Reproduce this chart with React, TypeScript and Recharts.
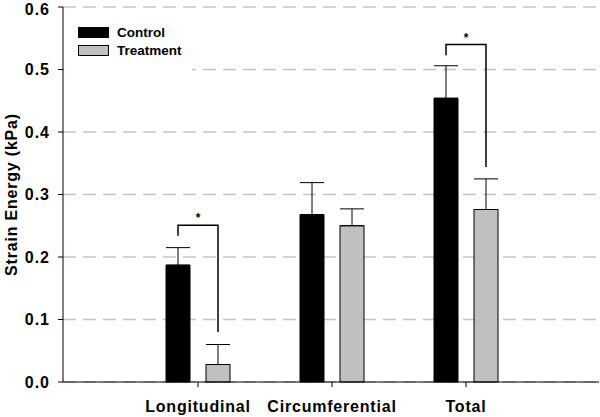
import { Bar, BarChart, CartesianGrid, ErrorBar, Legend, XAxis, YAxis } from "recharts";

const FONT = "'Liberation Sans', Arial, Helvetica, sans-serif";

const categories = ["Longitudinal", "Circumferential", "Total"];
const control = [0.187, 0.268, 0.454];
const controlErr = [0.028, 0.051, 0.052];
const treatment = [0.028, 0.25, 0.276];
const treatmentErr = [0.032, 0.027, 0.049];

// significance brackets: start above control, top line, end above treatment
const sigLeftStart = [0.234, null, 0.523];
const sigTop = [0.251, null, 0.54];
const sigRightEnd = [0.08, null, 0.344];

const yTicks = [0, 0.1, 0.2, 0.3, 0.4, 0.5, 0.6];

const data = categories.map((name, i) => ({
  name,
  control: control[i],
  controlErr: [0, controlErr[i]],
  treatment: treatment[i],
  treatmentErr: [0, treatmentErr[i]],
}));

const BAR_SIZE = 24;
const BAR_GAP = 16;

function TreatmentShape(props: any) {
  const { x, y, width, height, fill, index } = props;
  const base = y + height;
  const perUnit = height / treatment[index];
  const toY = (v: number) => base - v * perUnit;
  const cxT = x + width / 2;
  const cxC = cxT - (width + BAR_GAP);
  const top = sigTop[index];
  return (
    <g>
      <rect x={x} y={y} width={width} height={height} fill={fill} stroke="#000" strokeWidth={1} />
      {top != null && (
        <g>
          <path
            d={`M${cxC},${toY(sigLeftStart[index] as number)} V${toY(top)} H${cxT} V${toY(
              sigRightEnd[index] as number
            )}`}
            fill="none"
            stroke="#000"
            strokeWidth={1.5}
          />
          <text
            x={(cxC + cxT) / 2}
            y={toY(top) - 3}
            textAnchor="middle"
            fontSize={12}
            fontWeight={700}
            fontFamily={FONT}
            fill="#000"
          >
            *
          </text>
        </g>
      )}
    </g>
  );
}

function YTitle(props: any) {
  const vb = props.viewBox;
  const cx = vb.x + 17;
  const cy = vb.y + vb.height / 2;
  return (
    <text
      x={cx}
      y={cy}
      transform={`rotate(-90, ${cx}, ${cy})`}
      textAnchor="middle"
      fontSize={16}
      fontWeight={700}
      fontFamily={FONT}
      letterSpacing={0.8}
      fill="#000"
    >
      Strain Energy (kPa)
    </text>
  );
}

function renderLegend(props: any) {
  const items = props.payload || [];
  return (
    <div style={{ position: "relative", width: 128, height: 56, fontFamily: FONT }}>
      {items.map((e: any, i: number) => (
        <div
          key={String(e.value)}
          style={{
            position: "absolute",
            left: 14,
            top: 11 + i * 18,
            height: 11,
            display: "flex",
            alignItems: "center",
          }}
        >
          <span
            style={{
              width: 31,
              height: 11,
              background: e.color,
              border: "1px solid #000",
              boxSizing: "border-box",
            }}
          />
          <span style={{ marginLeft: 8, fontSize: 13.5, fontWeight: 700, color: "#000", lineHeight: "11px" }}>
            {e.value}
          </span>
        </div>
      ))}
    </div>
  );
}

export default function App() {
  return (
    <div style={{ position: "absolute", left: 0, top: 0, width: 600, height: 417, background: "#fff" }}>
      <BarChart
        width={600}
        height={417}
        data={data}
        barGap={BAR_GAP}
        margin={{ top: 7, right: 1, bottom: 5, left: 0 }}
      >
        <CartesianGrid vertical={false} stroke="#c4c4c4" strokeWidth={1.5} strokeDasharray="13 7" />
        <XAxis
          dataKey="name"
          padding={{ left: 68, right: 66 }}
          height={30}
          tickSize={5}
          tickMargin={14}
          axisLine={{ stroke: "#000" }}
          tickLine={{ stroke: "#000" }}
          tick={{ fill: "#000", fontSize: 16, fontWeight: 700, fontFamily: FONT, letterSpacing: 0.8 }}
        />
        <XAxis
          xAxisId="top"
          dataKey="name"
          orientation="top"
          height={0}
          tick={false}
          tickLine={false}
          axisLine={{ stroke: "#000" }}
        />
        <YAxis
          domain={[0, 0.6]}
          ticks={yTicks}
          width={63}
          tickSize={5}
          tickMargin={8}
          tickFormatter={(v: number) => v.toFixed(1)}
          axisLine={{ stroke: "#000" }}
          tickLine={{ stroke: "#000" }}
          tick={{ fill: "#000", fontSize: 16, fontWeight: 700, fontFamily: FONT, letterSpacing: 1 }}
          label={YTitle}
        />
        <YAxis
          yAxisId="right"
          orientation="right"
          domain={[0, 0.6]}
          width={0}
          tick={false}
          tickLine={false}
          axisLine={{ stroke: "#000" }}
        />
        <Legend
          layout="vertical"
          align="center"
          verticalAlign="middle"
          wrapperStyle={{ left: 64, top: 16, width: 128, height: 56, background: "#fff" }}
          content={renderLegend}
        />
        <Bar dataKey="control" name="Control" fill="#000" stroke="#000" barSize={BAR_SIZE} isAnimationActive={false}>
          <ErrorBar dataKey="controlErr" direction="y" width={12} stroke="#000" strokeWidth={1} isAnimationActive={false} />
        </Bar>
        <Bar
          dataKey="treatment"
          name="Treatment"
          fill="#c0c0c0"
          stroke="#000"
          barSize={BAR_SIZE}
          shape={TreatmentShape}
          isAnimationActive={false}
        >
          <ErrorBar dataKey="treatmentErr" direction="y" width={12} stroke="#000" strokeWidth={1} isAnimationActive={false} />
        </Bar>
      </BarChart>
    </div>
  );
}
